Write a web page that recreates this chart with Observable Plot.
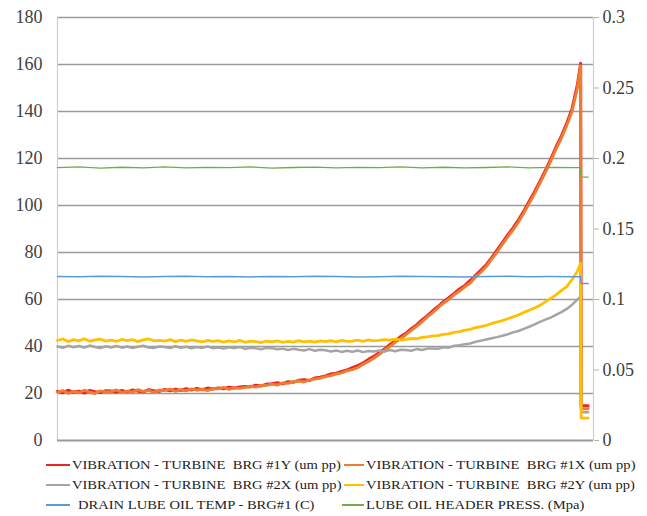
<!DOCTYPE html>
<html><head><meta charset="utf-8">
<script src="https://cdn.jsdelivr.net/npm/d3@7"></script>
<script src="https://cdn.jsdelivr.net/npm/@observablehq/plot@0.6"></script>
<style>
body{margin:0;background:#fff;}
#wrap{position:relative;width:647px;height:516px;overflow:hidden;}
.leg{position:absolute;height:16px;display:flex;align-items:center}
.leg .sw{display:inline-block;height:2px}
.leg .tx{display:inline-block;font-family:"Liberation Serif","Times New Roman",serif;font-size:13px;color:#222;white-space:pre;transform:scaleX(1.12);transform-origin:0 50%}
</style></head><body><div id="wrap"><div id="chart"></div><div id="legend"></div></div>
<script>
// sample index (time) of the vibration series: 0..97 then peak / trip / tail
const sampleTimes = [...d3.range(0, 98), 97.6, 97.7, 99];

const vib1Y = [
20.9,20.3,21.4,20.5,21.0,20.2,21.3,20.8,20.4,21.2,
21.1,20.6,21.3,20.7,21.5,21.0,20.7,21.6,21.2,20.9,
21.7,21.2,21.8,21.3,22.0,21.5,22.2,21.6,22.3,21.9,
22.4,22.0,22.7,22.3,22.8,23.0,22.8,23.5,23.2,24.0,
24.2,24.6,24.1,25.0,24.8,25.6,25.9,25.5,26.6,26.9,
27.5,28.3,28.6,29.4,30.0,31.0,31.8,33.0,34.5,35.8,
37.4,38.9,40.8,42.3,44.2,45.6,47.6,49.2,51.3,53.1,
55.2,57.0,59.1,60.8,62.6,64.5,66.0,68.1,70.3,72.5,
74.8,77.8,81.0,84.2,87.5,90.5,93.9,97.6,101.8,105.9,
110.2,114.8,119.6,124.9,129.5,135.0,141.2,151.5,
160.5,14.8,14.8];

const vib1X = [
20.5,21.2,20.1,20.9,20.3,21.4,20.6,20.0,21.1,20.7,
20.8,21.5,20.4,21.0,20.6,21.6,20.9,21.3,20.5,21.4,
21.3,21.9,20.9,21.6,21.1,22.0,21.4,21.8,21.2,22.1,
22.0,22.6,21.8,22.4,22.2,22.6,23.1,22.7,23.4,23.5,
24.0,23.6,24.5,24.3,25.0,25.3,24.9,25.8,26.1,26.5,
27.2,27.6,28.3,28.8,29.6,30.2,31.0,32.4,33.6,35.0,
36.6,38.4,40.0,41.8,43.3,45.0,46.9,48.6,50.5,52.6,
54.4,56.5,58.4,60.1,62.0,63.6,65.4,67.0,69.6,71.6,
74.0,77.2,80.1,83.5,86.6,89.6,93.0,96.8,100.9,105.0,
109.4,114.0,118.8,124.0,128.6,134.0,140.0,150.0,
159.5,13.5,13.5];

const vib2X = [
40.0,39.4,40.3,39.7,40.2,39.5,40.4,39.8,39.3,40.1,
39.6,40.2,39.5,40.0,39.3,39.9,40.3,39.6,39.4,40.0,
39.8,39.3,40.1,39.5,39.9,39.2,39.8,39.4,40.0,39.3,
39.6,39.1,39.7,39.3,39.8,39.0,39.5,39.2,38.8,39.4,
39.3,38.8,39.1,38.5,39.0,38.6,38.3,38.9,38.2,38.6,
38.4,37.9,38.3,37.7,38.2,37.8,38.3,37.6,38.1,37.9,
38.3,37.8,38.5,38.0,38.6,38.5,38.2,38.9,38.5,39.1,
39.2,39.0,39.7,39.5,40.3,40.5,41.0,41.3,42.0,42.5,
43.0,43.5,44.0,44.6,45.2,46.0,46.6,47.5,48.4,49.4,
50.5,51.4,52.3,53.5,54.6,56.0,57.8,60.0,
61.2,12.0,12.0];

const vib2Y = [
42.6,43.2,42.1,42.9,42.4,43.3,42.2,42.8,43.1,42.3,
42.7,42.2,43.0,42.5,42.9,42.1,42.8,43.2,42.4,42.6,
42.3,42.9,42.1,42.7,42.2,42.8,42.4,42.0,42.6,42.2,
42.5,41.9,42.4,42.0,42.6,41.8,42.3,42.1,41.7,42.3,
42.0,42.4,41.8,42.2,41.9,42.5,42.0,42.3,41.9,42.4,
42.1,42.5,42.0,42.6,42.2,42.3,42.7,42.2,42.8,42.4,
42.6,42.9,42.7,43.1,42.8,43.0,43.4,43.3,43.9,44.1,
44.5,44.6,45.2,45.4,46.0,46.3,47.0,47.3,48.0,48.5,
49.0,49.8,50.4,51.0,51.8,52.6,53.4,54.5,55.4,56.4,
57.5,59.0,60.4,62.0,63.8,65.5,68.5,72.0,
75.5,9.5,9.5];

// slower-sampled process values
const processTimes = [...d3.range(0, 97, 4), 97.6, 97.7, 99];
const drainTemp = [69.8,69.7,69.9,69.8,69.6,69.8,69.9,69.7,69.8,69.6,69.8,69.7,69.9,
  69.8,69.6,69.7,69.9,69.8,69.7,69.6,69.8,69.9,69.7,69.8,69.7,69.7,66.8,66.8];
const headerPress = [0.1935,0.1940,0.1932,0.1938,0.1934,0.1941,0.1933,0.1937,0.1935,0.1940,
  0.1932,0.1936,0.1939,0.1933,0.1937,0.1935,0.1941,0.1934,0.1938,0.1933,0.1936,0.1940,
  0.1934,0.1937,0.1935,0.1935,0.1868,0.1868];

const leftTicks = [0,20,40,60,80,100,120,140,160,180];
const rightTicks = [0,0.05,0.1,0.15,0.2,0.25,0.3];
const ratio = 180 / 0.3;

const seriesNames = [
  "VIBRATION - TURBINE  BRG #1Y (um pp)",
  "VIBRATION - TURBINE  BRG #1X (um pp)",
  "VIBRATION - TURBINE  BRG #2X (um pp)",
  "VIBRATION - TURBINE  BRG #2Y (um pp)",
  "DRAIN LUBE OIL TEMP - BRG#1 (C)",
  "LUBE OIL HEADER PRESS. (Mpa)"];
const seriesColors = ["#e8262a","#ee7d32","#a5a5a5","#ffc000","#5b9bd5","#70ad47"];

const vibSeries = [vib1Y, vib1X, vib2X, vib2Y];
const widths = [3.0, 2.9, 2.5, 2.8];

const serif = "'Liberation Serif', 'Times New Roman', serif";
const marks = [
  Plot.ruleY(leftTicks.filter(d => d > 0), {stroke: "#9a9a9a", strokeWidth: 1.4}),
  Plot.ruleX([0, 100], {stroke: "#cfcfcf", strokeWidth: 1.2}),
  Plot.ruleY([0], {stroke: "#9a9a9a", strokeWidth: 2}),
  Plot.axisY(leftTicks, {anchor: "left", tickSize: 0, tickPadding: 15, fontFamily: serif, fontSize: 18}),
  Plot.axisY(rightTicks.map(v => v * ratio), {anchor: "right", tickSize: 5, tickPadding: 4,
    stroke: "#b0b0b0", fontFamily: serif, fontSize: 18, tickFormat: d => String(+(d / ratio).toFixed(2))}),
];
vibSeries.forEach((s, k) => {
  marks.push(Plot.lineY(s, {x: (d, i) => sampleTimes[i], y: d => d, stroke: seriesColors[k], strokeWidth: widths[k], strokeLinejoin: "round"}));
});
marks.push(Plot.lineY(drainTemp, {x: (d, i) => processTimes[i], y: d => d, stroke: seriesColors[4], strokeWidth: 1.5}));
marks.push(Plot.lineY(headerPress, {x: (d, i) => processTimes[i], y: d => d * ratio, stroke: seriesColors[5], strokeWidth: 1.3}));

const chart = Plot.plot({
  width: 647, height: 450,
  marginTop: 17, marginBottom: 10, marginLeft: 57, marginRight: 54,
  x: {domain: [0, 100], axis: null},
  y: {domain: [0, 180]},
  style: {fontFamily: serif, fontSize: "18px", color: "#404040", background: "#fff"},
  marks
});
document.getElementById("chart").appendChild(chart);

// legend: [line left, line width, text gap, row centre]
const legPos = [[46, 24, 2, 465], [344, 20, 2, 465], [46, 24, 2, 485], [344, 20, 2, 485], [46, 24, 8, 505], [342, 22, 2, 505]];
const leg = document.getElementById("legend");
seriesNames.forEach((name, k) => {
  const [lx, lw, gap, cy] = legPos[k];
  const el = document.createElement("div");
  el.className = "leg";
  el.style.left = lx + "px";
  el.style.top = (cy - 8) + "px";
  const sw = document.createElement("span");
  sw.className = "sw";
  sw.style.width = lw + "px";
  sw.style.marginRight = gap + "px";
  sw.style.background = seriesColors[k];
  const tx = document.createElement("span");
  tx.className = "tx";
  tx.textContent = name;
  el.appendChild(sw);
  el.appendChild(tx);
  leg.appendChild(el);
});
</script></body></html>
